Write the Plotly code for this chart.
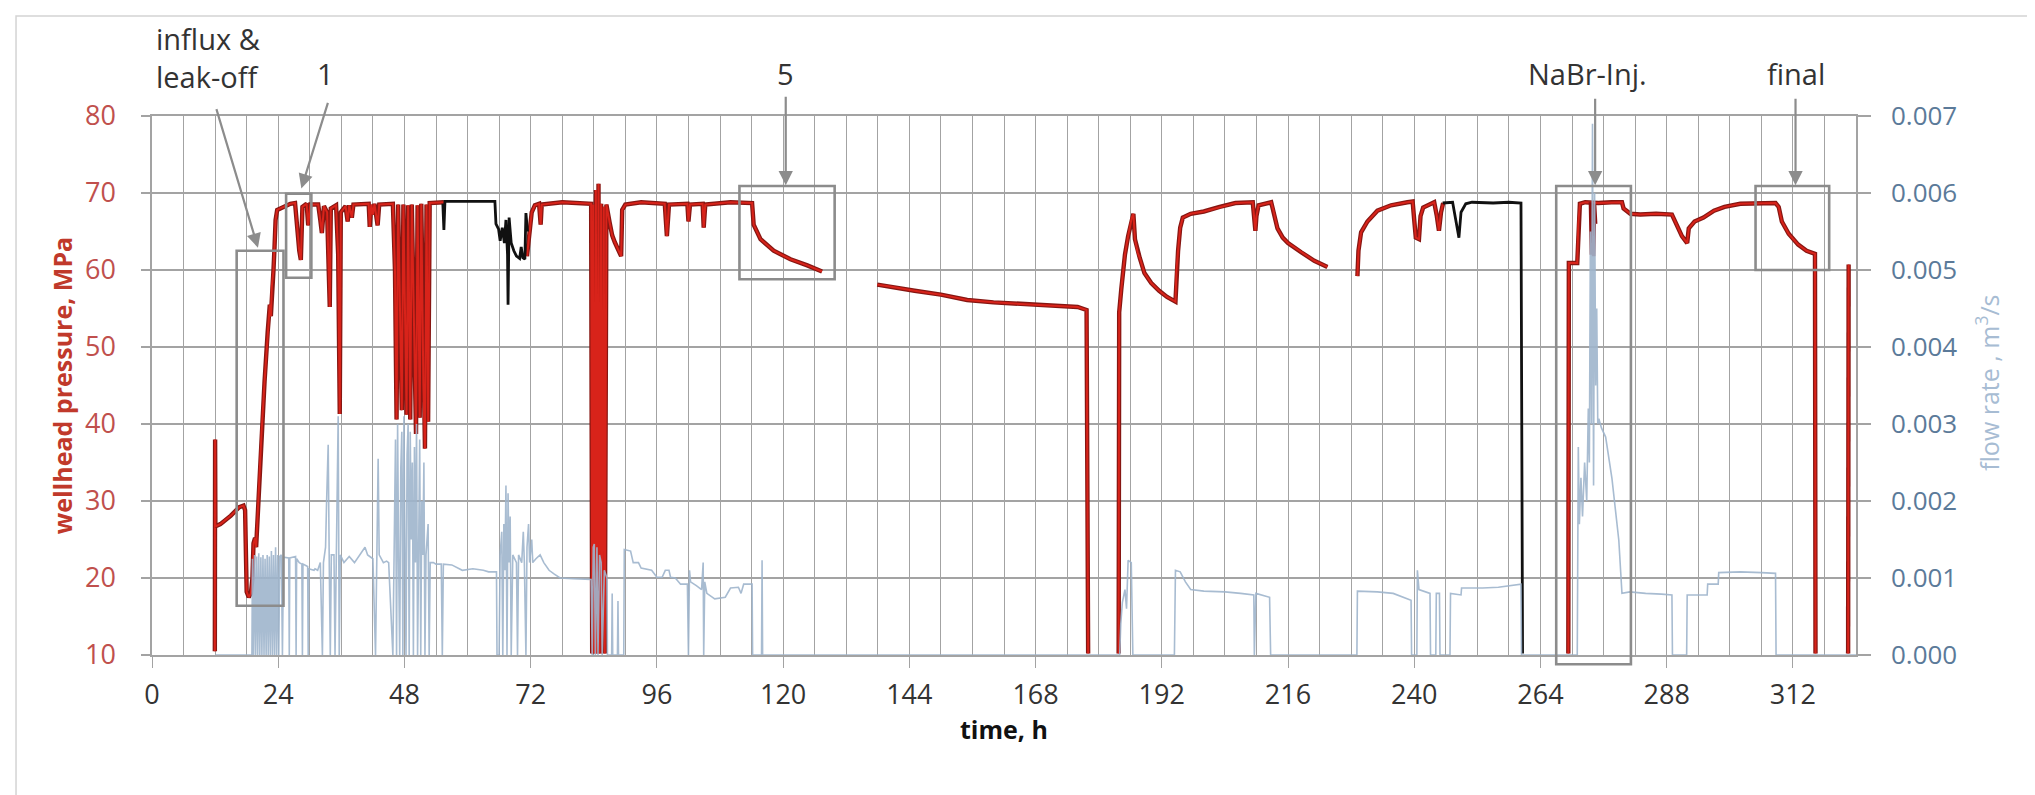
import plotly.graph_objects as go

# ---------------- data ----------------
# wellhead pressure, MPa – red parts (None = gap)
red_t = [11.95, 12.0, 12.05, 13.0, 14.0, 15.0, 16.0, 16.6, 17.4, 17.7, 18.0, 18.4, 18.8, 19.1, 19.3, 19.6, 19.8,
         20.2, 20.8, 21.4, 22.0, 22.4, 22.6, 22.8, 23.1, 23.3, 23.5, 23.8, 24.5, 25.3, 26.3, 27.2, 27.5, 28.0,
         28.3, 28.6, 29.4, 29.7, 30.1, 31.6, 32.0, 32.3, 32.7, 33.3, 33.6, 33.8, 34.0, 35.0, 35.4, 35.7, 35.9,
         36.8, 37.2, 37.5, 38.0, 38.3, 41.2, 41.4, 41.7, 42.0, 42.3, 42.9, 43.2, 45.8, 46.2, 46.5, 46.8, 47.2,
         47.5, 47.8, 48.2, 48.4, 48.7, 49.1, 49.4, 49.8, 50.2, 50.5, 50.9, 51.2, 51.6, 51.9, 52.2, 52.5, 52.8,
         55.5, None,
         71.3, 71.7, 72.2, 72.8, 73.6, 73.9, 74.1, 78.0, 82.0, 83.5, 83.7, 83.9, 84.1, 84.4, 84.6, 84.9, 85.1,
         85.4, 85.6, 85.9, 86.1, 86.4, 87.0, 87.5, 88.0, 88.6, 89.2, 89.4, 90.0, 93.0, 97.5, 97.9, 98.3, 101.8,
         102.0, 102.3, 104.7, 104.9, 105.2, 110.0, 114.1, 114.4, 115.7, 118.2, 121.4, 124.6, 127.4, None,
         137.9, 140.0, 145.0, 150.0, 155.0, 160.0, 165.0, 170.0, 174.0, 176.0, 177.7, 178.0, None,
         183.8, 183.9, 184.3, 184.6, 185.0, 185.6, 186.3, 186.6, 186.9, 187.4, 187.8, 188.7, 190.0, 191.5,
         193.0, 194.6, 194.8, 195.1, 195.5, 196.0, 197.5, 200.0, 203.0, 206.0, 209.3, 209.6, 209.8, 210.0,
         210.4, 212.8, 213.2, 214.0, 215.0, 216.0, 218.5, 221.0, 223.5, None,
         229.2, 229.4, 229.9, 231.1, 233.0, 235.6, 238.7, 239.7, 240.0, 240.3, 240.9, 241.2, 241.7, 242.7,
         243.8, 244.3, 244.7, 245.1, 245.5, None,
         269.3, 269.4, 271.0, 271.2, 271.5, 272.5, 275.0, 277.5, 279.5, 279.8, 281.1, 283.0, 286.0, 289.0,
         289.6, 290.9, 291.9, 292.2, 293.3, 295.0, 297.0, 299.0, 302.0, 305.5, 308.7, 309.3, 309.9, 311.2,
         313.0, 314.6, 316.2, 316.3, None,
         322.5, 322.6]
red_p = [10.5, 38.0, 26.7, 27.0, 27.5, 28.1, 28.8, 29.2, 29.4, 28.8, 18.2, 17.5, 18.0, 20.0, 24.5, 25.2, 24.0,
         30.0, 38.5, 45.5, 52.0, 55.5, 54.0, 58.0, 60.0, 63.0, 66.5, 67.8, 68.0, 68.3, 68.6, 68.7, 66.0, 62.5,
         61.3, 68.2, 68.6, 65.8, 68.5, 68.5, 66.5, 64.8, 68.3, 67.5, 60.0, 55.2, 68.0, 68.4, 62.0, 41.3, 67.5,
         68.3, 66.3, 68.4, 66.8, 68.5, 68.6, 65.6, 68.5, 67.2, 68.6, 65.8, 68.5, 68.6, 60.0, 40.6, 68.5, 50.0,
         41.8, 68.5, 52.0, 41.2, 68.4, 40.6, 68.5, 55.0, 38.7, 68.4, 40.8, 68.6, 45.0, 36.8, 68.5, 40.3, 68.7,
         68.8, None,
         61.8, 64.5, 67.5, 68.4, 68.6, 65.9, 68.5, 68.8, 68.7, 68.6, 10.2, 68.5, 10.2, 70.4, 10.2, 71.2, 10.2,
         68.6, 10.2, 68.2, 10.2, 68.5, 66.2, 64.5, 63.6, 62.8, 61.8, 67.8, 68.5, 68.8, 68.6, 64.4, 68.5, 68.6,
         66.3, 68.5, 68.6, 65.5, 68.5, 68.8, 68.7, 65.9, 64.0, 62.5, 61.4, 60.6, 59.8, None,
         58.1, 57.9, 57.3, 56.8, 56.1, 55.8, 55.6, 55.4, 55.2, 55.2, 54.8, 10.2, None,
         10.2, 54.5, 57.5, 59.7, 62.0, 64.4, 66.8, 67.3, 64.0, 62.3, 61.6, 59.6, 58.3, 57.3,
         56.5, 55.9, 60.0, 62.5, 65.5, 66.8, 67.3, 67.6, 68.2, 68.7, 68.8, 66.5, 65.1, 67.0,
         68.4, 68.8, 67.8, 65.4, 64.2, 63.5, 62.3, 61.2, 60.4, None,
         59.2, 62.5, 64.9, 66.3, 67.7, 68.4, 68.8, 68.9, 66.5, 64.2, 64.0, 67.0, 68.1, 68.4,
         68.8, 67.0, 65.1, 67.5, 68.7, None,
         10.2, 60.9, 60.9, 66.0, 68.6, 68.8, 68.7, 68.8, 68.8, 68.0, 67.3, 67.2, 67.3, 67.2,
         66.3, 64.4, 63.5, 65.4, 66.3, 66.8, 67.7, 68.2, 68.6, 68.7, 68.7, 68.2, 66.3, 64.7,
         63.3, 62.5, 62.1, 10.2, None,
         10.2, 60.7]

# wellhead pressure, MPa – black parts
black_t = [55.3, 55.5, 55.7, 60.0, 65.2, 65.4, 65.9, 66.2, 66.6, 67.0, 67.3, 67.6, 67.7, 67.9, 68.3, 68.8,
           69.3, 69.9, 70.2, 70.5, 70.9, 71.1, 71.4, None,
           245.4, 246.5, 247.3, 247.9, 248.5, 248.9, 249.8, 251.0, 255.0, 258.0, 260.3, 260.6]
black_p = [68.6, 65.2, 68.9, 68.9, 68.9, 66.0, 65.3, 63.8, 65.5, 63.5, 66.5, 62.0, 55.5, 66.8, 63.5, 62.5,
           61.8, 61.5, 63.0, 61.6, 61.4, 67.4, 65.0, None,
           68.7, 68.8, 68.8, 66.5, 64.2, 67.5, 68.6, 68.8, 68.7, 68.8, 68.7, 10.2]

# dark red spike during NaBr injection
spike_t = [273.5, 273.7, 273.9, 274.1, 274.3, 274.5]
spike_p = [68.8, 62.0, 68.6, 61.8, 68.5, 66.0]

# flow rate, m3/s
flow_t = [12.0, 19.0, 19.1, 19.3, 19.5, 19.7, 19.9, 20.1, 20.3, 20.5, 20.7, 20.9, 21.1, 21.3, 21.5, 21.7, 21.9,
          22.1, 22.3, 22.5, 22.7, 22.9, 23.1, 23.3, 23.5, 23.7, 23.9, 24.1, 24.3, 24.6, 24.8, 25.0, 26.0, 26.1,
          26.2, 27.3, 27.4, 27.5, 28.0, 28.5, 28.6, 28.7, 29.6, 29.7, 29.8, 30.8, 31.0, 31.5, 32.0, 32.4, 32.6,
          33.0, 33.2, 33.5, 33.7, 33.9, 34.1, 34.6, 34.8, 35.0, 35.4, 35.6, 35.8, 36.5, 37.5, 38.5, 39.5, 40.5,
          41.0, 42.0, 42.5, 42.7, 43.0, 43.2, 44.0, 44.6, 45.0, 45.8, 46.0, 46.3, 46.5, 46.7, 46.9, 47.1, 47.3,
          47.5, 47.7, 47.9, 48.1, 48.3, 48.5, 48.7, 48.9, 49.1, 49.3, 49.5, 49.7, 49.9, 50.1, 50.3, 50.5, 50.7,
          50.9, 51.1, 51.3, 51.5, 51.7, 51.9, 52.1, 52.5, 52.7, 52.9, 53.5, 54.0, 55.0, 55.2, 55.4, 57.0, 59.0,
          61.0, 63.0, 64.0, 65.5, 65.6, 66.0, 66.2, 66.5, 66.7, 66.9, 67.1, 67.3, 67.5, 67.7, 67.9, 68.1, 68.3,
          68.6, 69.3, 69.5, 69.7, 70.3, 70.6, 70.8, 71.1, 71.3, 71.6, 71.8, 72.2, 72.4, 73.0, 73.8, 74.5, 75.5,
          76.5, 77.6, 80.0, 83.5, 83.7, 83.9, 84.1, 84.3, 84.6, 84.8, 85.1, 85.4, 85.6, 86.0, 86.5, 86.6, 87.4,
          87.5, 87.6, 88.5, 88.6, 88.7, 89.7, 89.8, 91.0, 91.5, 92.5, 93.0, 95.0, 96.0, 97.0, 97.6, 98.3, 98.6,
          99.5, 100.5, 101.8, 102.0, 102.2, 102.4, 103.5, 104.5, 104.8, 104.9, 105.1, 105.5, 107.0, 109.0,
          110.0, 111.5, 112.0, 112.5, 114.1, 114.2, 115.9, 116.0, 116.1, 184.0, 184.2, 184.5, 185.0, 185.3,
          185.6, 186.2, 186.5, 194.4, 194.6, 195.5, 196.5, 197.5, 200.0, 204.0, 207.0, 209.5, 209.6, 209.9,
          212.5, 212.7, 229.1, 229.2, 233.0, 236.0, 239.4, 239.5, 240.5, 240.6, 240.9, 242.0, 243.0, 243.1,
          244.1, 244.2, 244.8, 244.9, 246.8, 246.9, 248.9, 249.0, 253.0, 256.0, 258.0, 260.3, 260.4, 271.0,
          271.2, 271.4, 271.7, 272.0, 272.4, 272.8, 273.1, 273.3, 273.5, 273.7, 273.9, 274.1, 274.3, 274.5,
          274.7, 274.9, 275.1, 275.6, 276.4, 277.6, 278.9, 279.5, 281.0, 284.0, 287.0, 289.0, 289.1, 291.8,
          291.9, 295.7, 295.8, 297.8, 297.9, 302.0, 306.0, 308.7, 308.8, 324.0]
flow_q = [0, 0, 0.00125, 0, 0.0013, 0, 0.00128, 0, 0.00132, 0, 0.00127, 0, 0.0013, 0, 0.00125, 0, 0.0013,
          0, 0.00128, 0, 0.00135, 0, 0.0013, 0, 0.0014, 0, 0.0013, 0, 0.00128, 0.0013, 0, 0.00127, 0.00126, 0,
          0.00126, 0.00128, 0, 0.00125, 0.0012, 0.00118, 0, 0.00118, 0.00115, 0, 0.00112, 0.0011, 0.00112,
          0.0011, 0.0012, 0, 0.0012,
          0.0014, 0.0020, 0.00273, 0.0012, 0, 0.0013, 0.0013, 0, 0.00125, 0.0031, 0, 0.0013, 0.0012, 0.00128,
          0.0012, 0.0013, 0.0014,
          0.0013, 0.00125, 0, 0.0013, 0.00255, 0.0013, 0.0012, 0.00122, 0.0012, 0, 0.0014, 0.0028, 0, 0.0030,
          0.0012, 0, 0.0024,
          0.0029, 0, 0.0031, 0.0013, 0, 0.0026, 0.0030, 0, 0.0029, 0.0015, 0.0025, 0, 0.0027, 0.0012, 0.0030,
          0, 0.0021,
          0.0028, 0, 0.0020, 0.0013, 0.0025, 0, 0.0013, 0.0017, 0, 0.0012, 0.0012, 0.00118, 0.00118, 0,
          0.00118, 0.00117, 0.0011,
          0.00112, 0.0011, 0.00108, 0.00108, 0, 0, 0.0013, 0.0016, 0, 0.0017, 0.0011, 0.0022, 0, 0.0021,
          0.0012, 0.0018, 0,
          0.0013, 0.0012, 0, 0.0013, 0.0012, 0.0016, 0.0012, 0, 0.0014, 0.0017, 0.0012, 0.0015, 0.0012,
          0.00125, 0.0013, 0.0012, 0.0011,
          0.00105, 0.0010, 0.00099, 0.00098, 0, 0.0014, 0.00144, 0, 0.0014, 0, 0.0013, 0.0012, 0, 0.0011,
          0.0010, 0, 0,
          0.0008, 0, 0, 0.0007, 0, 0, 0.00137, 0.00135, 0.0012, 0.0012, 0.00113, 0.0011, 0.00101, 0.00101,
          0.0011, 0.0011, 0.00101,
          0.0010, 0.00092, 0.00092, 0, 0.0011, 0.00095, 0.0009, 0.00085, 0.0012, 0, 0.00095, 0.0008, 0.00073,
          0.00075,
          0.00087, 0.00088, 0.0008, 0.00092, 0.00092, 0, 0, 0.00123, 0, 0, 0.0004, 0.00068, 0.00085, 0.0006,
          0.00123, 0.0012, 0, 0, 0.0011, 0.00108, 0.00095, 0.00085, 0.00083, 0.00082, 0.0008, 0.00078, 0,
          0.0008,
          0.00075, 0, 0, 0.00083, 0.00082, 0.0008, 0.00071, 0, 0, 0.0011, 0.00085, 0.00082, 0.0008, 0,
          0, 0.0008, 0.0008, 0, 0, 0.0008, 0.00078, 0.00087, 0.00087, 0.00088, 0.0009, 0.00092, 0, 0,
          0.0027, 0.0017, 0.0023, 0.0018, 0.0025, 0.0020, 0.0032, 0.0025, 0.0055, 0.0030, 0.0069, 0.0022,
          0.0060, 0.0035,
          0.0045, 0.0030, 0.00307, 0.00295, 0.00283, 0.00229, 0.00149, 0.0008, 0.00082, 0.0008, 0.00079,
          0.00078, 0, 0,
          0.00078, 0.00078, 0.00092, 0.00092, 0.00107, 0.00108, 0.00107, 0.00106, 0, 0]

# annotation boxes (time from/to, pressure from/to)
box_names = ["influx", "1", "5", "final"]
box_t0 = [16.1, 25.5, 111.7, 304.9]
box_t1 = [25.0, 30.3, 129.8, 318.9]
box_p0 = [16.4, 59.0, 58.8, 60.0]
box_p1 = [62.5, 69.9, 70.9, 70.9]
nabr_box = [267.0, 281.2, 8.8, 70.9]

# labels with arrows: text, arrow-head time, arrow-head pressure
label_text = ["1", "5", "NaBr-Inj.", "final"]
label_t = [28.4, 120.5, 274.4, 312.5]
label_p = [70.6, 71.0, 71.0, 71.0]
label_text_t = [33.0, 120.5, 273.0, 312.6]

X_RANGE = [0, 324]
Y_RANGE = [10, 80]
Y2_RANGE = [0, 0.007]

FONT = "Open Sans"
GRID = "#a3a3a3"

fig = go.Figure()

# red pressure: dark outline + bright core
fig.add_trace(go.Scatter(x=red_t, y=red_p, mode="lines", line=dict(color="#861612", width=4.4),
                         connectgaps=False, hoverinfo="skip", showlegend=False))
fig.add_trace(go.Scatter(x=red_t, y=red_p, mode="lines", line=dict(color="#d8231a", width=2.0),
                         connectgaps=False, showlegend=False, name="pressure"))
fig.add_trace(go.Scatter(x=black_t, y=black_p, mode="lines", line=dict(color="#111111", width=2.8),
                         connectgaps=False, showlegend=False))
fig.add_trace(go.Scatter(x=spike_t, y=spike_p, mode="lines", line=dict(color="#8b0d0d", width=3.5),
                         showlegend=False))
fig.add_trace(go.Scatter(x=flow_t, y=flow_q, mode="lines", yaxis="y2",
                         line=dict(color="#9fb5cd", width=1.6), opacity=0.9, showlegend=False, name="flow"))

# boxes
for i in range(len(box_names)):
    fig.add_shape(type="rect", xref="x", yref="y", x0=box_t0[i], x1=box_t1[i], y0=box_p0[i], y1=box_p1[i],
                  line=dict(color="#8c8c8c", width=2.6), layer="above")
# NaBr box extends slightly below the axis -> paper refs (derived from axis ranges)
xs = X_RANGE[1] - X_RANGE[0]
ys = Y_RANGE[1] - Y_RANGE[0]
fig.add_shape(type="rect", xref="paper", yref="paper",
              x0=(nabr_box[0] - X_RANGE[0]) / xs, x1=(nabr_box[1] - X_RANGE[0]) / xs,
              y0=(nabr_box[2] - Y_RANGE[0]) / ys, y1=(nabr_box[3] - Y_RANGE[0]) / ys,
              line=dict(color="#8c8c8c", width=2.6), layer="above")

# outer chart border
fig.add_shape(type="rect", xref="paper", yref="paper", x0=-0.0798, x1=1.1068, y0=-0.267, y1=1.1855,
              line=dict(color="#d4d4d4", width=1.5), layer="below")

# arrows
arrow_style = dict(showarrow=True, arrowhead=2, arrowsize=1.3, arrowwidth=2.2, arrowcolor="#8c8c8c", text="")
fig.add_annotation(x=20.15, y=62.9, xref="x", yref="y", ax=-42, ay=-140, **arrow_style)
offsets = [(27, -87), (0, -90), (0, -88), (0, -88)]
for i in range(len(label_text)):
    fig.add_annotation(x=label_t[i], y=label_p[i], xref="x", yref="y", ax=offsets[i][0], ay=offsets[i][1],
                       **arrow_style)
    fig.add_annotation(x=label_text_t[i], y=1.078, xref="x", yref="paper", text=label_text[i], showarrow=False,
                       font=dict(family=FONT, size=29, color="#333333"), xanchor="center", yanchor="middle")
fig.add_annotation(x=0.4, y=1.108, xref="x", yref="paper", text="influx &<br>leak-off", showarrow=False,
                   align="left", xanchor="left", yanchor="middle",
                   font=dict(family=FONT, size=29, color="#333333"))

# axis titles
fig.add_annotation(x=-0.053, y=0.5, xref="paper", yref="paper", text="<b>wellhead pressure, MPa</b>",
                   textangle=-90, showarrow=False, xanchor="center", yanchor="middle",
                   font=dict(family=FONT, size=25, color="#c0392b"))
fig.add_annotation(x=1.0775, y=0.505, xref="paper", yref="paper", text="flow rate , m<sup>3</sup>/s",
                   textangle=-90, showarrow=False, xanchor="center", yanchor="middle",
                   font=dict(family=FONT, size=25, color="#a7bcd3"))
fig.add_annotation(x=0.5, y=-0.137, xref="paper", yref="paper", text="<b>time, h</b>",
                   showarrow=False, xanchor="center", yanchor="middle",
                   font=dict(family=FONT, size=25, color="#111111"))

fig.update_layout(
    width=2035, height=795,
    margin=dict(l=144, r=187, t=108, b=148),
    paper_bgcolor="white", plot_bgcolor="white",
    font=dict(family=FONT),
    showlegend=False,
    xaxis=dict(range=X_RANGE, tick0=0, dtick=24, showgrid=True, gridcolor=GRID, gridwidth=1.3,
               minor=dict(dtick=6, showgrid=True, gridcolor=GRID, gridwidth=1.2),
               ticks="outside", ticklen=11, tickcolor=GRID, tickwidth=1.3,
               showline=True, linecolor=GRID, linewidth=1.5, mirror=True, zeroline=False,
               tickfont=dict(family=FONT, size=27, color="#333333"), ticklabelstandoff=4),
    yaxis=dict(range=Y_RANGE, dtick=10, showgrid=True, gridcolor=GRID, gridwidth=1.5,
               ticks="outside", ticklen=9, tickcolor=GRID, tickwidth=1.5,
               showline=True, linecolor=GRID, linewidth=1.5, zeroline=False,
               tickfont=dict(family=FONT, size=27, color="#c0504d"), ticklabelstandoff=20),
    yaxis2=dict(range=Y2_RANGE, dtick=0.001, tickformat=".3f", overlaying="y", side="right",
                showgrid=False, ticks="outside", ticklen=13, tickcolor=GRID, tickwidth=1.5,
                showline=True, linecolor=GRID, linewidth=1.5, zeroline=False,
                tickfont=dict(family=FONT, size=26, color="#5b7a99"), ticklabelstandoff=15),
)

fig.write_html("out.html")
